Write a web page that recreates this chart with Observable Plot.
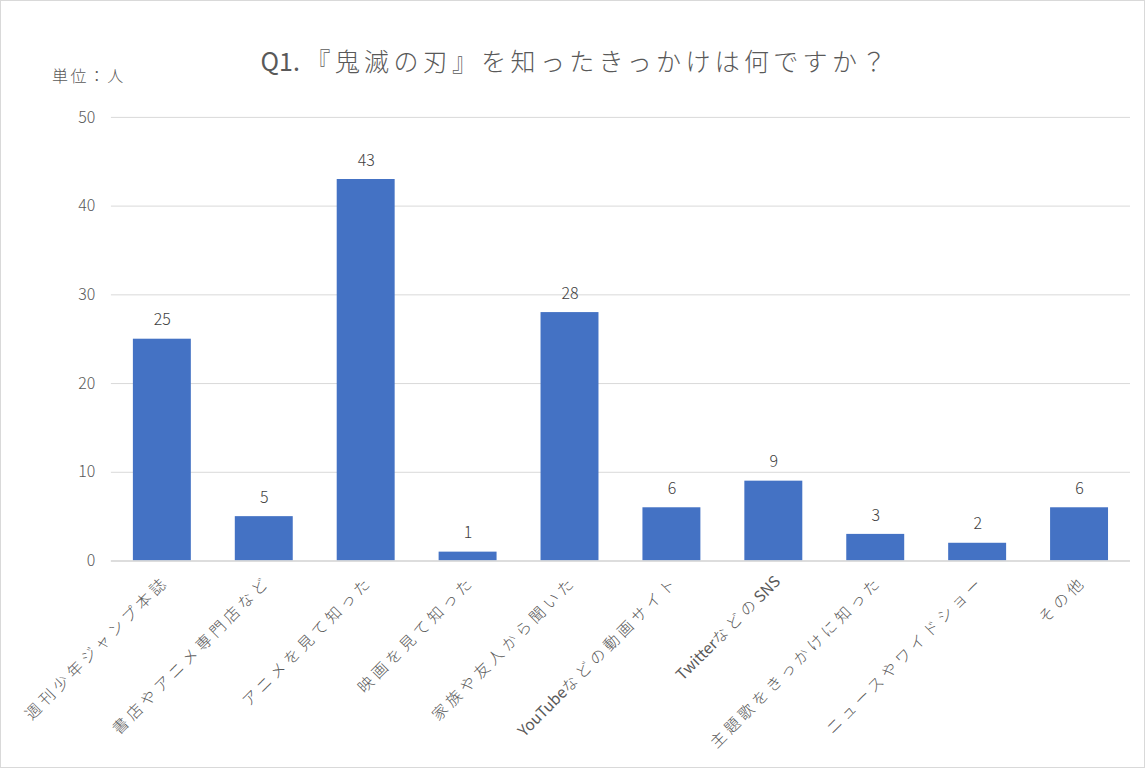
<!DOCTYPE html>
<html><head><meta charset="utf-8">
<script src="https://cdn.jsdelivr.net/npm/d3@7"></script>
<script src="https://cdn.jsdelivr.net/npm/@observablehq/plot@0.6"></script>
<style>
html,body{margin:0;padding:0;background:#fff;}
#wrap{position:relative;width:1145px;height:768px;box-sizing:border-box;border:1px solid #d9d9d9;overflow:hidden;font-family:"Noto Sans CJK JP","Noto Sans",sans-serif;color:#595959;}
#title{position:absolute;left:2px;width:1145px;top:46px;line-height:27px;text-align:center;font-size:25px;letter-spacing:4.3px;color:#595959;font-weight:300;}
#title .lat{letter-spacing:0;font-weight:400;}
#unit{position:absolute;left:51px;top:66px;line-height:16px;font-size:16px;letter-spacing:2.4px;color:#595959;font-weight:300;}
#chart{position:absolute;left:-1px;top:-1px;}
#chart svg text{font-weight:300;}
#chart svg [aria-label="x-axis tick label"] text{letter-spacing:4.2px;}
#chart svg [aria-label="x-axis tick label"] tspan.lat{letter-spacing:0;font-weight:400;}
</style></head>
<body>
<div id="wrap">
<div id="chart"></div>
<div id="title"><span class="lat">Q1. </span>『鬼滅の刃』を知ったきっかけは何ですか？</div>
<div id="unit">単位：人</div>
</div>
<script>
const categories = ["週刊少年ジャンプ本誌","書店やアニメ専門店など","アニメを見て知った","映画を見て知った","家族や友人から聞いた","YouTubeなどの動画サイト","TwitterなどのSNS","主題歌をきっかけに知った","ニュースやワイドショー","その他"];
const values = [25,5,43,1,28,6,9,3,2,6];
const yTicks = [0,10,20,30,40,50];

const data = categories.map((c,i)=>({category:c,value:values[i]}));

const plot = Plot.plot({
  width:1145,
  height:768,
  marginTop:117,
  marginBottom:207,
  marginLeft:111,
  marginRight:14,
  style:{fontFamily:'"Noto Sans CJK JP","Noto Sans",sans-serif',fontSize:"15px",color:"#595959",background:"transparent"},
  x:{domain:categories,paddingInner:0.43,paddingOuter:0.215,label:null},
  y:{domain:[0,50],label:null},
  marks:[
    Plot.gridY(yTicks,{stroke:"#d9d9d9",strokeOpacity:1,strokeWidth:1}),
    Plot.barY(data,{x:"category",y:"value",fill:"#4472C4"}),
    Plot.ruleY([0],{stroke:"#d9d9d9",strokeWidth:1.5}),
    Plot.text(data,{x:"category",y:"value",text:d=>String(d.value),dy:-19,fill:"#404040",fontSize:16}),
    Plot.axisY({ticks:yTicks,tickSize:0,tickPadding:16,fontSize:16,fill:"#595959",label:null}),
    Plot.axisX({tickSize:0,tickPadding:18,tickRotate:-45,fontSize:15.5,fill:"#595959",label:null,dx:4})
  ]
});
document.getElementById("chart").appendChild(plot);

// split latin runs into tspans so only CJK gets the wide spacing
d3.select(plot).selectAll('[aria-label="x-axis tick label"] text').each(function(){
  const t = d3.select(this);
  const s = t.text();
  const parts = s.match(/[A-Za-z]+|[^A-Za-z]+/g) || [s];
  t.text(null);
  parts.forEach(p=>{
    t.append("tspan").attr("class", /^[A-Za-z]/.test(p) ? "lat" : "cjk").text(p);
  });
});
</script>
</body></html>
